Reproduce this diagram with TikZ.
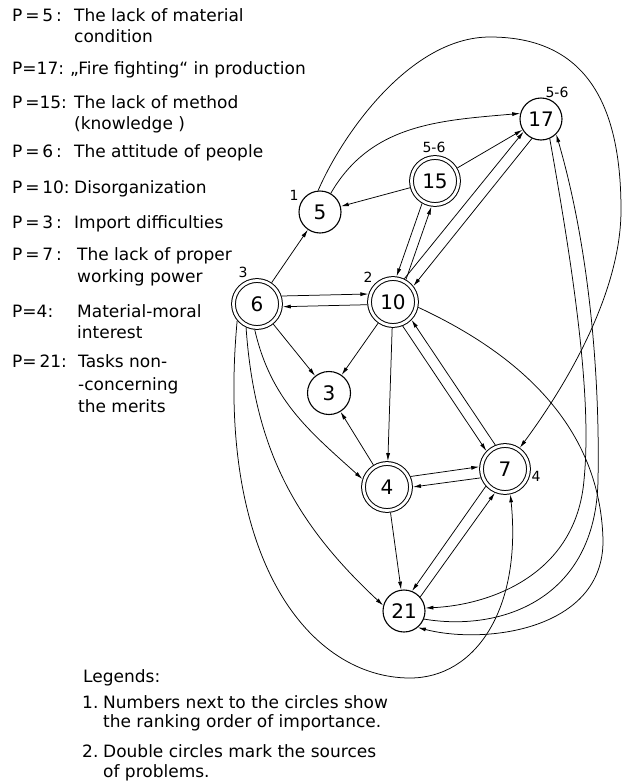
\documentclass[tikz,border=0pt]{standalone}
\usepackage{fontspec}
\setmainfont{DejaVu Sans}
\usetikzlibrary{arrows.meta}
\begin{document}
\begin{tikzpicture}[x=1pt,y=1pt,
  every node/.style={inner sep=0pt},
  sgl/.style={circle, draw, line width=1.1pt, minimum size=42pt, font=\fontsize{20}{20}\selectfont},
  dbl/.style={circle, draw, line width=1pt, double, double distance=2.8pt, minimum size=47pt, outer sep=2.4pt, font=\fontsize{20}{20}\selectfont},
  conn/.style={line width=0.75pt, -{Latex[length=8pt,width=4pt]}},
  rk/.style={font=\fontsize{14}{14}\selectfont},
  lgd/.style={font=\fontsize{17}{17}\selectfont, anchor=base west},
]
\fill[white] (0,0) rectangle (624,-782);
\useasboundingbox (0,0) rectangle (624,-782);

% legend (top-left)
\node[lgd] (p5) at (12,-21) {P\,=\,5\,:};
\node[lgd] (d5) at (74,-21) {The lack of material};
\node[lgd] (d5b) at (74,-42) {condition};
\node[lgd] (p17) at (12,-74) {P=17:};
\node[lgd] (d17) at (70,-74) {„Fire fighting“ in production};
\node[lgd] (p15) at (12,-108) {P\,=15:};
\node[lgd] (d15) at (74,-108) {The lack of method};
\node[lgd] (d15b) at (74,-129) {(knowledge )};
\node[lgd] (p6) at (12,-157) {P\,=\,6\,:};
\node[lgd] (d6) at (74,-157) {The attitude of people};
\node[lgd] (p10) at (12,-193) {P\,=\,10:};
\node[lgd] (d10) at (74,-193) {Disorganization};
\node[lgd] (p3) at (12,-228) {P\,=\,3\,:};
\node[lgd] (d3) at (74,-228) {Import difficulties};
\node[lgd] (p7) at (12,-260) {P\,=\,7\,:};
\node[lgd] (d7) at (77,-260) {The lack of proper};
\node[lgd] (d7b) at (77,-282) {working power};
\node[lgd] (p4) at (12,-317) {P=4:};
\node[lgd] (d4) at (77,-317) {Material-moral};
\node[lgd] (d4b) at (77,-338) {interest};
\node[lgd] (p21) at (12,-367) {P=\,21:};
\node[lgd] (d21) at (78,-367) {Tasks non-};
\node[lgd] (d21b) at (78,-390) {-concerning};
\node[lgd] (d21c) at (78,-412) {the merits};

% bottom legend
\node[lgd] (lg) at (83,-682) {Legends:};
\node[lgd] (l1n) at (82,-708) {1.};
\node[lgd] (l1a) at (103,-708) {Numbers next to the circles show};
\node[lgd] (l1b) at (103,-727) {the ranking order of importance.};
\node[lgd] (l2n) at (82,-757) {2.};
\node[lgd] (l2a) at (103,-757) {Double circles mark the sources};
\node[lgd] (l2b) at (103,-777) {of problems.};

% nodes
\node[sgl] (n5) at (320,-212) {5};
\node[dbl] (n15) at (435,-181) {15};
\node[sgl] (n17) at (541,-119) {17};
\node[dbl] (n6) at (257,-304) {6};
\node[dbl] (n10) at (393,-302) {10};
\node[sgl, minimum size=43pt] (n3) at (329,-393) {3};
\node[dbl] (n4) at (387,-487) {4};
\node[dbl] (n7) at (505,-469) {7};
\node[sgl] (n21) at (404,-611) {21};

% ranks
\node[rk] (r5) at (294,-195) {1};
\node[rk] (r15) at (434,-147) {5-6};
\node[rk] (r17) at (557,-92) {5-6};
\node[rk] (r6) at (243,-272) {3};
\node[rk] (r10) at (368,-277) {2};
\node[rk] (r7) at (536,-476) {4};

% connectors
\draw[conn] (n6) -- (n5);
\draw[conn] (n5.60) to[out=60, in=185] (n17.165);
\draw[conn] (n15) -- (n5);
\draw[conn] (n15) -- (n17);
\draw[conn] (n15.240) -- (n10.82);
\draw[conn] (n10.60) -- (n15.262);
\draw[conn] (n10.64) -- (n17.216);
\draw[conn] (n17.245) -- (n10.38);
\draw[conn] (n6.18) -- (n10.162);
\draw[conn] (n10.186) -- (n6.-6);
\draw[conn] (n6) -- (n3);
\draw[conn] (n10) -- (n3);
\draw[conn] (n4) -- (n3);
\draw[conn] (n10) -- (n4);
\draw[conn] (n10.-68) -- (n7.136);
\draw[conn] (n7.112) -- (n10.-44);
\draw[conn] (n4.24) -- (n7.175);
\draw[conn] (n7.200) -- (n4.0);
\draw[conn] (n4) -- (n21);
\draw[conn] (n7.222) -- (n21.68);
\draw[conn] (n21.41) -- (n7.247);
\draw[conn] (n6.-95) to[out=-77, in=138] (n4.162);
\draw[conn] (n6.-115) to[out=-86, in=137] (n21.165);
\draw[conn] (n6.-140) .. controls (215,-560) and (310,-678) .. (410,-678)
   .. controls (475,-678) and (522,-610) .. (n7.-78);
\draw[conn] (n10.-12) .. controls (510,-350) and (600,-420) .. (603,-540)
   .. controls (604,-630) and (485,-645) .. (n21.-50);
\draw[conn] (n5.95) .. controls (342,-135) and (410,-37) .. (490,-37)
   .. controls (590,-37) and (621,-110) .. (621,-210)
   .. controls (621,-290) and (570,-380) .. (n7.55);
\draw[conn] (n17.-66) .. controls (575,-280) and (592,-400) .. (584,-480)
   .. controls (576,-575) and (490,-605) .. (n21.8);
\draw[conn] (n21.-22) .. controls (500,-632) and (596,-600) .. (598,-480)
   .. controls (600,-380) and (590,-250) .. (n17.-45);
\end{tikzpicture}
\end{document}
